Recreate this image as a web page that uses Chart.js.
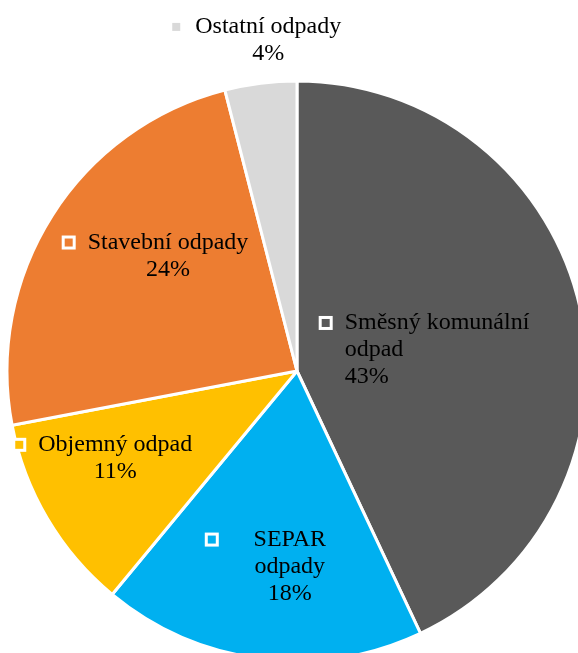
<!DOCTYPE html>
<html>
<head>
<meta charset="utf-8">
<script src="https://cdn.jsdelivr.net/npm/chart.js@4/dist/chart.umd.min.js"></script>
<style>
  html, body { margin: 0; padding: 0; background: #fff; overflow: hidden; }
  #wrap { position: absolute; left: 0; top: 0; width: 594px; height: 742px; }
</style>
</head>
<body>
<div id="wrap"><canvas id="pie" width="594" height="742"></canvas></div>
<script>
// data
var categories = ['Směsný komunální odpad', 'SEPAR odpady', 'Objemný odpad', 'Stavební odpady', 'Ostatní odpady'];
var values = [43, 18, 11, 24, 4];
var colors = ['#595959', '#00B0F0', '#FFC000', '#ED7D31', '#D9D9D9'];

// how each label is wrapped / placed (Excel "best fit" look)
var labelLines = [
    ['Směsný komunální', 'odpad'],
    ['SEPAR', 'odpady'],
    ['Objemný odpad'],
    ['Stavební odpady'],
    ['Ostatní odpady']
];
var labelOpts = [
    {frac: 0.444, turn: 3.2, align: 'left', minW: 0},
    {frac: 0.678, turn: -1.3, align: 'center', minW: 118},
    {frac: 0.736, turn: 6.45, align: 'center', minW: 0},
    {frac: 0.630, turn: 6.6, align: 'center', minW: 0},
    {frac: 1.149, turn: 0, align: 'center', minW: 0}
];

var total = values.reduce(function(a, b){ return a + b; }, 0);

var labelPlugin = {
    id: 'sliceLabels',
    afterDatasetsDraw: function(chart){
        var ctx = chart.ctx;
        var meta = chart.getDatasetMeta(0);
        var lh = 27, mk = 14, gap = 12;
        ctx.save();
        ctx.font = '24px "Liberation Serif", "Times New Roman", serif';
        ctx.textBaseline = 'middle';
        meta.data.forEach(function(arc, i){
            var p = arc.getProps(['x', 'y', 'startAngle', 'endAngle', 'outerRadius'], true);
            var o = labelOpts[i];
            var mid = (p.startAngle + p.endAngle) / 2 + o.turn * Math.PI / 180;
            var ax = p.x + Math.cos(mid) * o.frac * p.outerRadius;
            var ay = p.y + Math.sin(mid) * o.frac * p.outerRadius;
            var lines = labelLines[i].concat([Math.round(values[i] / total * 100) + '%']);
            var tw = o.minW;
            lines.forEach(function(s){ tw = Math.max(tw, ctx.measureText(s).width); });
            var bw = mk + gap + tw, bh = lines.length * lh;
            var left = ax - bw / 2, top = ay - bh / 2;
            // legend key
            ctx.fillStyle = '#fff';
            ctx.fillRect(left, top + lh / 2 - mk / 2, mk, mk);
            ctx.fillStyle = colors[i];
            ctx.fillRect(left + 3, top + lh / 2 - mk / 2 + 3, mk - 6, mk - 6);
            ctx.fillStyle = '#000';
            var tx = left + mk + gap;
            if (o.align === 'center') {
                ctx.textAlign = 'center';
                tx += tw / 2;
            } else {
                ctx.textAlign = 'left';
            }
            lines.forEach(function(s, k){
                ctx.fillText(s, tx, top + lh * (k + 0.5));
            });
        });
        ctx.restore();
    }
};

var ctx = document.getElementById('pie').getContext('2d');
var myPie = new Chart(ctx, {
    type: 'pie',
    data: {
        labels: categories,
        datasets: [{
            data: values,
            backgroundColor: colors,
            borderColor: '#ffffff',
            borderWidth: 3
        }]
    },
    options: {
        responsive: false,
        animation: false,
        radius: 290,
        layout: {padding: 0},
        plugins: {
            legend: {display: false},
            tooltip: {enabled: false},
            title: {display: false}
        }
    },
    plugins: [labelPlugin]
});
</script>
</body>
</html>
